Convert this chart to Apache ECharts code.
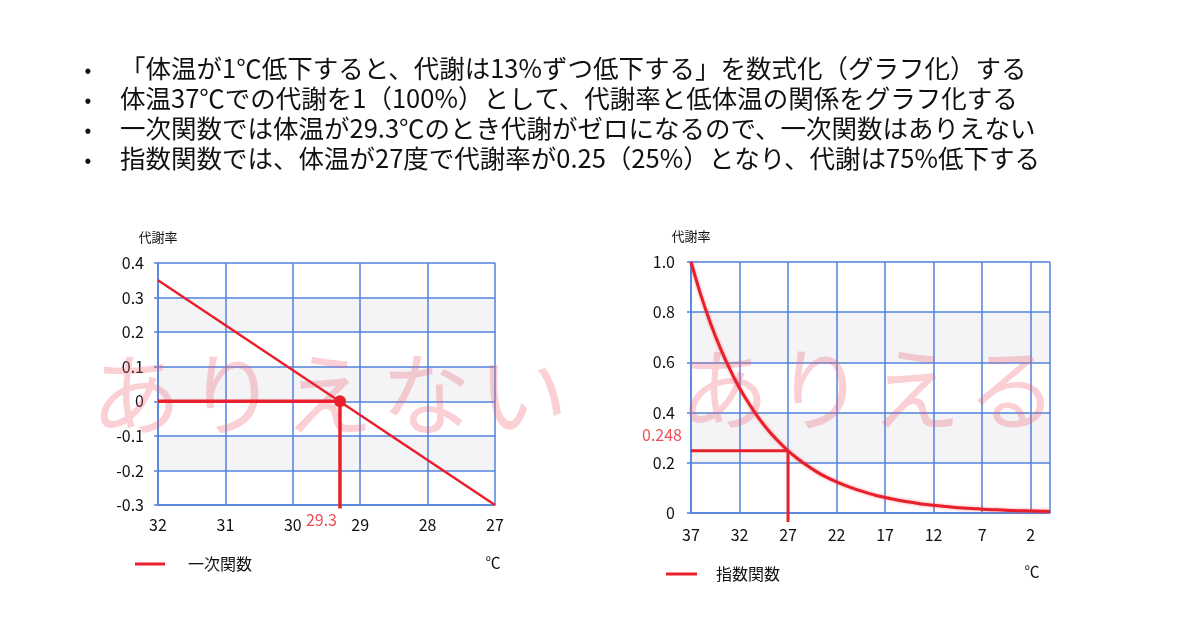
<!DOCTYPE html>
<html><head><meta charset="utf-8">
<script src="https://cdn.jsdelivr.net/npm/echarts@6/dist/echarts.min.js"></script>
<style>html,body{margin:0;padding:0;background:#fff}#c{width:1200px;height:635px}</style>
</head><body><div id="c"></div>
<script>
// ---- data ----
const bulletLines = [
  '「体温が1℃低下すると、代謝は13%ずつ低下する」を数式化（グラフ化）する',
  '体温37℃での代謝を1（100%）として、代謝率と低体温の関係をグラフ化する',
  '一次関数では体温が29.3℃のとき代謝がゼロになるので、一次関数はありえない',
  '指数関数では、体温が27度で代謝率が0.25（25%）となり、代謝は75%低下する'
];
const linTemps = [32, 27];
const linRates = [0.35, -0.30];
const linZeroTemp = 29.3;
const linZeroRate = 0;
const linZeroLabel = '29.3';
const expTemps = [37,36,35,34,33,32,31,30,29,28,27,26,25,24,23,22,21,20,19,18,17,16,15,14,13,12,11,10,9,8,7,6,5,4,3,2,1,0];
const expRates = [1.0,0.87,0.757,0.659,0.573,0.498,0.434,0.377,0.328,0.286,0.248,0.216,0.188,0.163,0.142,0.124,0.108,0.094,0.082,0.071,0.062,0.054,0.047,0.041,0.035,0.031,0.027,0.023,0.020,0.018,0.015,0.013,0.012,0.010,0.009,0.008,0.007,0.006];
const expMarkTemp = 27;
const expMarkRate = 0.248;
const expMarkLabel = '0.248';
const rightXTicks = [37,32,27,22,17,12,7,2];
const rightXGridEnd = 0;
const yName = '代謝率';
const linName = '一次関数';
const expName = '指数関数';
const unitName = '℃';
const leftMark = 'ありえない';
const rightMark = 'ありえる';

// ---- style ----
const RED = '#e8202c';
const BLUE = '#5282db';
const PINK = 'rgba(238,100,115,0.30)';
const FONT = '"Noto Sans CJK JP", "Noto Sans", sans-serif';

const chart = echarts.init(document.getElementById('c'));

const fmtY = v => Math.abs(v) < 1e-9 ? '0' : v.toFixed(1);

const yCommon = {
  type: 'value',
  position: 'left',
  name: yName,
  nameLocation: 'end',
  nameGap: 19,
  nameTextStyle: {fontFamily: FONT, fontSize: 13, color: '#111', align: 'center'},
  axisLine: {show: true, onZero: false, lineStyle: {color: BLUE, width: 1.5}},
  axisTick: {show: true, length: 4, lineStyle: {color: BLUE, width: 1.5}},
  splitLine: {show: true, lineStyle: {color: BLUE, width: 1.5}},
  splitArea: {show: true, areaStyle: {color: ['rgba(255,255,255,0)', '#f4f4f6']}},
  axisLabel: {fontFamily: FONT, fontSize: 16, color: '#111', margin: 14, formatter: fmtY}
};

const graphicText = [];
bulletLines.forEach((t, i) => {
  graphicText.push({type: 'text', x: 88, y: 69 + i * 30,
    style: {text: '•', fontSize: 20, fontFamily: FONT, fill: '#111', align: 'center', verticalAlign: 'middle'}});
  graphicText.push({type: 'text', x: 120, y: 68 + i * 30,
    style: {text: t, fontSize: 25.5, fontFamily: FONT, fill: '#111', align: 'left', verticalAlign: 'middle'}});
});
// watermarks, one glyph per slot
const leftCenters = [136, 232, 329, 426, 523];
Array.from(leftMark).forEach((ch, i) => {
  graphicText.push({type: 'text', x: leftCenters[i], y: 394, z: 1,
    style: {text: ch, fontSize: 90, fontFamily: FONT, fill: PINK, align: 'center', verticalAlign: 'middle'}});
});
const rightCenters = [724, 820, 916, 1012];
Array.from(rightMark).forEach((ch, i) => {
  graphicText.push({type: 'text', x: rightCenters[i], y: 389, z: 1,
    style: {text: ch, fontSize: 90, fontFamily: FONT, fill: PINK, align: 'center', verticalAlign: 'middle'}});
});
graphicText.push({type: 'text', x: 493, y: 562,
  style: {text: unitName, fontSize: 15, fontFamily: FONT, fill: '#111', align: 'center', verticalAlign: 'middle'}});
graphicText.push({type: 'text', x: 1032, y: 571,
  style: {text: unitName, fontSize: 15, fontFamily: FONT, fill: '#111', align: 'center', verticalAlign: 'middle'}});

const option = {
  animation: false,
  backgroundColor: '#fff',
  textStyle: {fontFamily: FONT},
  grid: [
    {left: 158, top: 263, width: 337, height: 242},
    {left: 691, top: 262, width: 359, height: 251}
  ],
  legend: [
    {data: [linName], left: 130, top: 551, icon: 'rect', itemWidth: 30, itemHeight: 3,
     textStyle: {fontFamily: FONT, fontSize: 16, color: '#111', padding: [0, 0, 0, 18]}},
    {data: [expName], left: 661, top: 561, icon: 'rect', itemWidth: 31, itemHeight: 3,
     textStyle: {fontFamily: FONT, fontSize: 16, color: '#111', padding: [0, 0, 0, 14]}}
  ],
  xAxis: [
    {gridIndex: 0, type: 'value', min: 27, max: 32, interval: 1, inverse: true,
     axisLine: {show: true, onZero: false, lineStyle: {color: BLUE, width: 1.5}},
     axisTick: {show: false},
     splitLine: {show: true, lineStyle: {color: BLUE, width: 1.5}},
     axisLabel: {fontFamily: FONT, fontSize: 16, color: '#111', margin: 12}},
    {gridIndex: 1, type: 'value', min: 0, max: 37, inverse: true,
     axisLine: {show: true, onZero: false, lineStyle: {color: BLUE, width: 1.5}},
     axisTick: {show: false, customValues: rightXTicks.concat([rightXGridEnd])},
     splitLine: {show: true, lineStyle: {color: BLUE, width: 1.5}},
     axisLabel: {fontFamily: FONT, fontSize: 16, color: '#111', margin: 14, customValues: rightXTicks}}
  ],
  yAxis: [
    Object.assign({}, yCommon, {gridIndex: 0, min: -0.3, max: 0.4, interval: 0.1}),
    Object.assign({}, yCommon, {gridIndex: 1, min: 0, max: 1.0, interval: 0.2, axisLabel: Object.assign({}, yCommon.axisLabel, {margin: 16})})
  ],
  graphic: graphicText,
  series: [
    {name: linName, type: 'line', xAxisIndex: 0, yAxisIndex: 0, z: 3,
     data: linTemps.map((t, i) => [t, linRates[i]]), showSymbol: false,
     lineStyle: {color: RED, width: 2.5}, itemStyle: {color: RED}},
    {type: 'line', xAxisIndex: 0, yAxisIndex: 0, z: 4, clip: false, showSymbol: false,
     data: [[linTemps[0], linZeroRate], [linZeroTemp, linZeroRate]],
     lineStyle: {color: RED, width: 3.5}},
    {type: 'line', xAxisIndex: 0, yAxisIndex: 0, z: 4, clip: false, showSymbol: false,
     data: [[linZeroTemp, linZeroRate], [linZeroTemp, -0.31]],
     lineStyle: {color: RED, width: 3.5}},
    {type: 'scatter', xAxisIndex: 0, yAxisIndex: 0, z: 5, symbolSize: 12,
     data: [[linZeroTemp, linZeroRate]], itemStyle: {color: RED, opacity: 1}},
    {type: 'scatter', xAxisIndex: 0, yAxisIndex: 0, z: 6, symbolSize: 2, clip: false,
     data: [[linZeroTemp, -0.3]], itemStyle: {color: 'rgba(0,0,0,0)'},
     label: {show: true, position: 'bottom', formatter: linZeroLabel, align: 'right', distance: 6, offset: [-3, 0],
       fontFamily: FONT, fontSize: 16, color: RED}},
    {name: expName, type: 'line', xAxisIndex: 1, yAxisIndex: 1, z: 3, smooth: 0.3,
     data: expTemps.map((t, i) => [t, expRates[i]]), showSymbol: false,
     lineStyle: {color: RED, width: 3, shadowBlur: 3, shadowColor: 'rgba(255,40,40,0.5)'}, itemStyle: {color: RED}},
    {type: 'line', xAxisIndex: 1, yAxisIndex: 1, z: 4, clip: false, showSymbol: false,
     data: [[expTemps[0], expMarkRate], [expMarkTemp, expMarkRate]],
     lineStyle: {color: RED, width: 3}},
    {type: 'line', xAxisIndex: 1, yAxisIndex: 1, z: 4, clip: false, showSymbol: false,
     data: [[expMarkTemp, expMarkRate], [expMarkTemp, -0.036]],
     lineStyle: {color: RED, width: 3}},
    {type: 'scatter', xAxisIndex: 1, yAxisIndex: 1, z: 6, symbolSize: 2, clip: false,
     data: [[expTemps[0], expMarkRate]], itemStyle: {color: 'rgba(0,0,0,0)'},
     label: {show: true, position: 'left', formatter: expMarkLabel, distance: 8, offset: [0, -16],
       fontFamily: FONT, fontSize: 16, color: RED}}
  ]
};
chart.setOption(option);
</script></body></html>
